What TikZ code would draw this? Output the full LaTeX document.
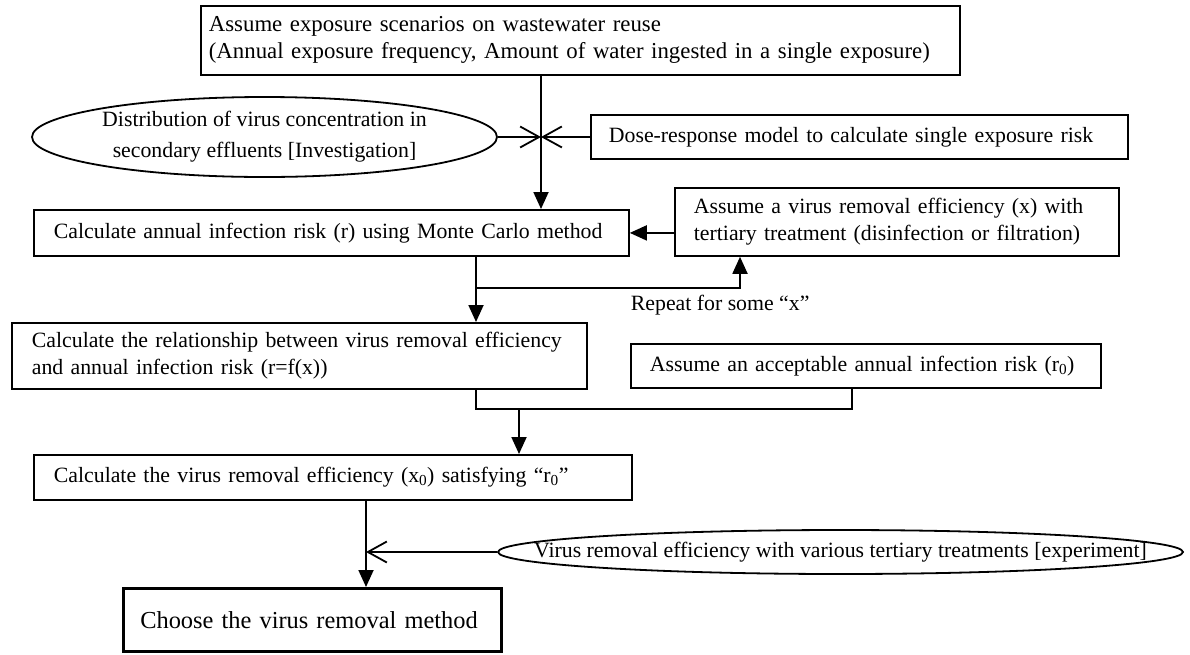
\documentclass[tikz,border=0pt]{standalone}
\usepackage{fontspec}
\setmainfont{Liberation Serif}
\usepackage{calc}
\usetikzlibrary{arrows.meta}
\newcommand\spreadline[2]{\makebox[\widthof{#2}][s]{#1}}
\begin{document}
\begin{tikzpicture}[x=1pt,y=-1pt,
  every node/.style={font=\fontsize{21.8}{27}\selectfont},
  line width=1.8pt,
  box/.style={draw, line width=1.8pt, rectangle, anchor=north west, inner ysep=0pt, align=left},
  ell/.style={rectangle, inner sep=0pt, align=center},
  arr/.style={-{Triangle[length=17pt,width=15pt]}},
  barb/.style={-{Straight Barb[length=19pt,width=21pt]}}
]
\useasboundingbox (0,0) rectangle (1190,654);

% boxes
\node[box, inner xsep=8pt, text width=743pt, minimum height=69pt,
      font=\fontsize{22.8}{27}\selectfont] (top) at (200,5)
  {Assume exposure scenarios on wastewater reuse\\
   (Annual exposure frequency, Amount of water ingested in a single exposure)};
\node[box, inner xsep=18pt, text width=501pt, minimum height=44pt] (dose) at (590,114)
  {Dose-response model to calculate single exposure risk};
\node[box, inner xsep=20pt, text width=555pt, minimum height=46pt] (calc1) at (33,209)
  {Calculate annual infection risk (r) using Monte Carlo method};
\node[box, inner xsep=19pt, text width=406pt, minimum height=68pt] (assume) at (674,187)
  {\spreadline{Assume a virus removal efficiency (x) with}{tertiary treatment (disinfection or filtration)}\\
   tertiary treatment (disinfection or filtration)};
\node[box, inner xsep=20pt, text width=535pt, minimum height=66pt] (rel) at (11,322)
  {Calculate the relationship between virus removal efficiency\\
   and annual infection risk (r=f(x))};
\node[box, inner xsep=19pt, text width=432pt, minimum height=44pt] (accept) at (630,343)
  {Assume an acceptable annual infection risk (r\textsubscript{0})};
\node[box, inner xsep=20pt, text width=558pt, minimum height=45pt] (calc2) at (33,454)
  {Calculate the virus removal efficiency (x\textsubscript{0}) satisfying “r\textsubscript{0}”};
\node[box, line width=2.6pt, inner xsep=17pt, text width=344pt, minimum height=63pt,
      font=\fontsize{24.4}{29}\selectfont] (choose) at (122,587)
  {Choose the virus removal method};

% ellipses
\node[ell, minimum width=465pt, minimum height=80pt] (e1) at (264.5,137)
  {Distribution of virus concentration in\\[4pt] secondary effluents [Investigation]};
\draw (e1.center) ellipse [x radius=232.5pt, y radius=40pt];
\node[ell, minimum width=685pt, minimum height=42pt] (e2) at (840.5,552)
  {Virus removal efficiency with various tertiary treatments [experiment]};
\draw (e2.center) ellipse [x radius=342.5pt, y radius=22pt];

% label
\node[anchor=base west, inner sep=0pt] (rep) at (630,310) {Repeat for some “x”};

% coordinates
\coordinate (j) at (541,137);
\coordinate (r1) at (476,288);
\coordinate (up) at (740,288);
\coordinate (r2) at (476,409);
\coordinate (m2) at (519,409);
\coordinate (a2) at (852,409);
\coordinate (v) at (366,499);
\coordinate (jj) at (366,552);

% connectors
\draw[arr] (top.south -| j) -- (calc1.north -| j);
\draw[barb] (e1.east) -- (j);
\draw[barb] (dose.west) -- (j);
\draw[arr] (assume.west |- calc1.east) -- (calc1.east);
\draw (calc1.south -| r1) -- (r1);
\draw[arr] (r1) -- (up) -- (assume.south -| up);
\draw[arr] (r1) -- (rel.north -| r1);
\draw (rel.south -| r2) -- (r2) -- (a2) -- (accept.south -| a2);
\draw[arr] (m2) -- (calc2.north -| m2);
\draw[arr] (calc2.south -| v) -- (choose.north -| v);
\draw[barb] (e2.west) -- (jj);
\end{tikzpicture}
\end{document}
